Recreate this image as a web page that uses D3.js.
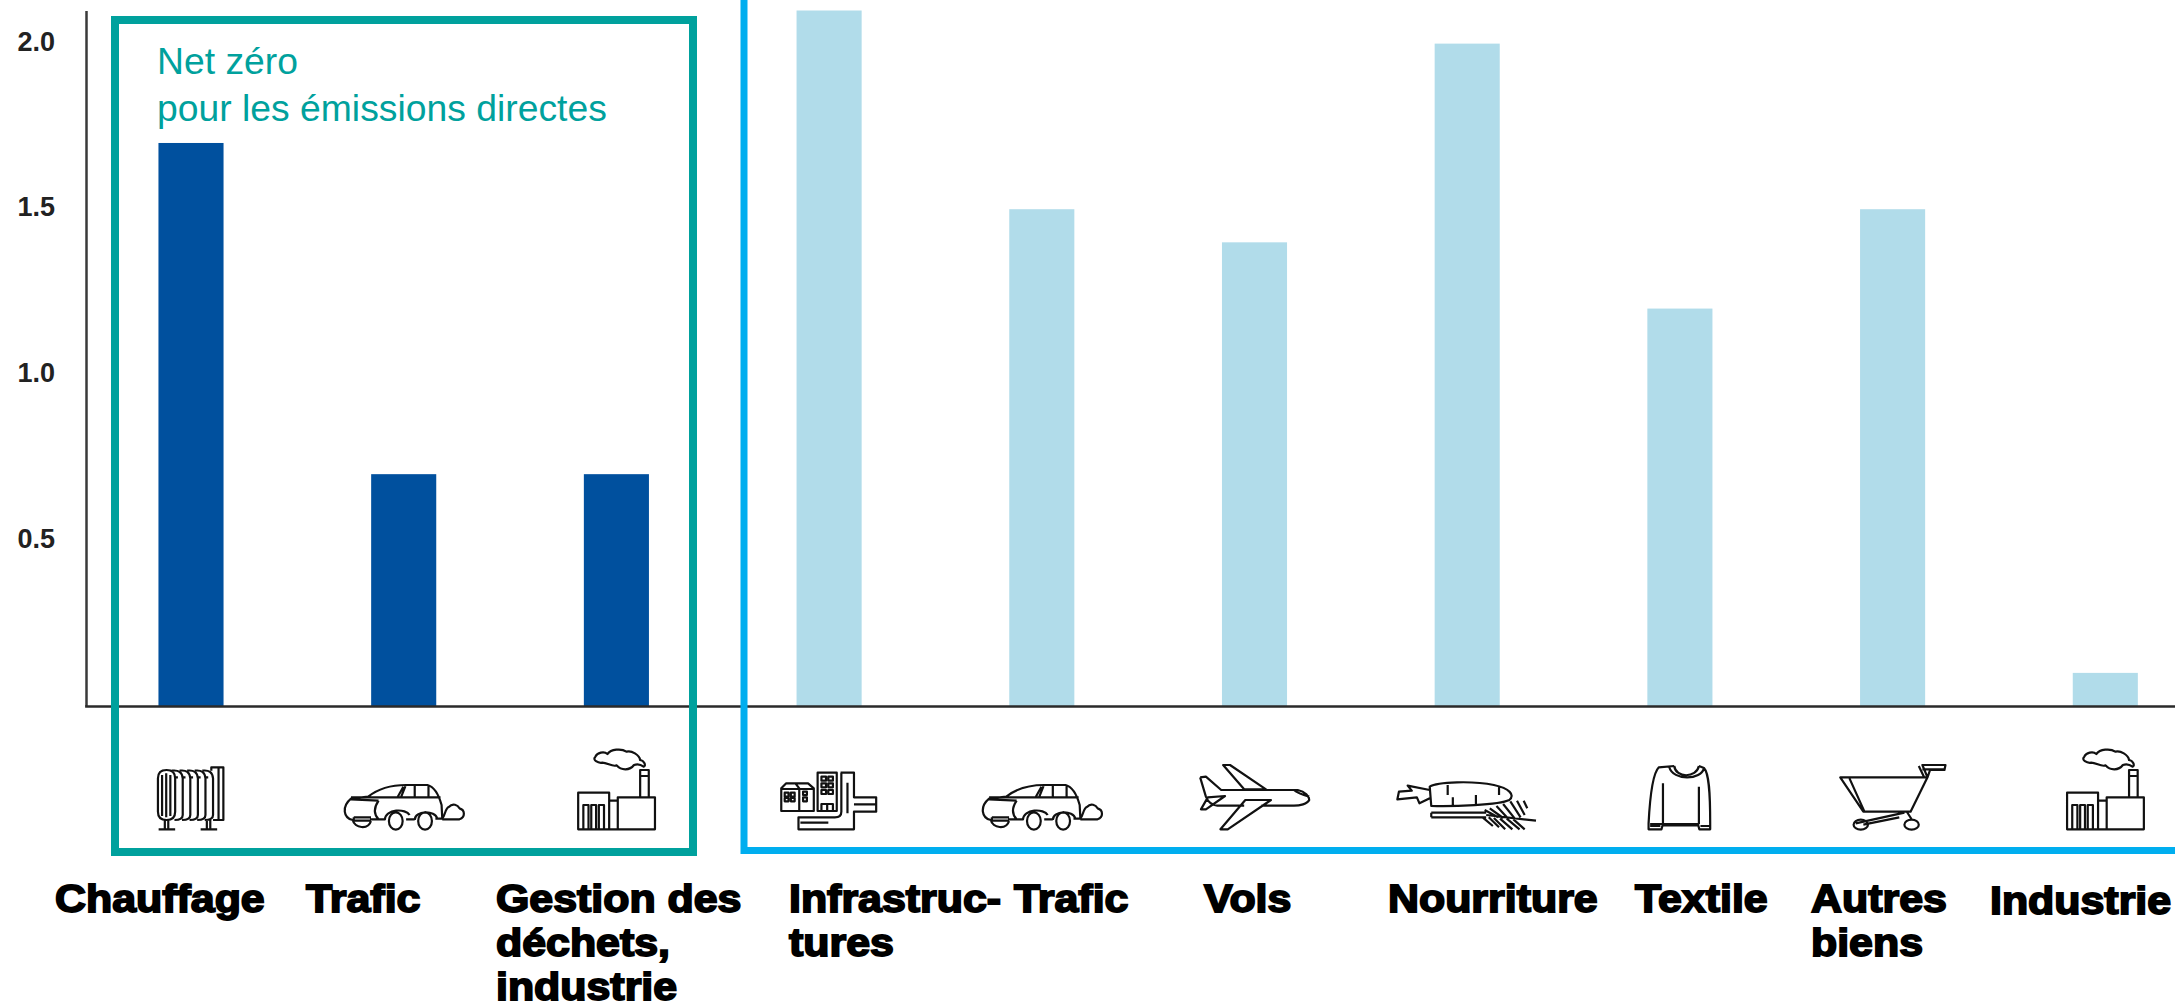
<!doctype html>
<html lang="fr">
  <head>
    <meta charset="UTF-8" />
    <title>Net zéro</title>
    <style>
      html, body { margin: 0; padding: 0; background: #fff; overflow: hidden; }
      svg { display: block; }
      .icon path { fill: none; stroke: #111; stroke-width: 2.2; vector-effect: non-scaling-stroke; stroke-linejoin: round; }
      text { font-family: "Liberation Sans", Arial, sans-serif; }
    </style>
  </head>
  <body>
    <div id="target"></div>
    <script src="https://d3js.org/d3.v7.min.js"></script>
    <script>
      /* global d3 */

      // data
      const categories = [
        "Chauffage", "Trafic direct", "Gestion", "Infrastructures", "Trafic indirect",
        "Vols", "Nourriture", "Textile", "Autres biens", "Industrie",
      ];
      const values = [1.7, 0.7, 0.7, 2.1, 1.5, 1.4, 2.0, 1.2, 1.5, 0.1];
      const groups = ["direct", "direct", "direct", "indirect", "indirect", "indirect", "indirect", "indirect", "indirect", "indirect"];
      const yTicks = [0.5, 1.0, 1.5, 2.0];
      const labelLines = [
        ["Chauffage"], ["Trafic"], ["Gestion des", "déchets,", "industrie"],
        ["Infrastruc-", "tures"], ["Trafic"], ["Vols"], ["Nourriture"], ["Textile"],
        ["Autres", "biens"], ["Industrie"],
      ];
      const iconNames = ["radiator", "car", "factory", "city", "car", "plane", "food", "sweater", "cart", "factory"];
      const noteLines = ["Net zéro", "pour les émissions directes"];

      const width = 2175,
        height = 1002;
      const teal = "#00a19d",
        sky = "#00aeef";
      const colors = { direct: "#00509e", indirect: "#b1dcea" };

      // left edge of each x label
      const labelLeft = [55, 306, 496, 789, 1014, 1204, 1388, 1635, 1811, 1990];

      // line icons, drawn in crop units, bottom at y=270
      const icons = {
        radiator: {
          cx: 176, sx: 2.904,
          d: "M80 115 Q80 90 105 90 Q130 90 130 115 V215 Q130 240 105 240 Q80 240 80 215 Z M92 105 V228 M104 100 V232 M116 105 V228 " +
            "M120 92 Q150 88 152 115 V225 Q152 240 128 240 M143 92 Q172 88 174 115 V225 Q174 240 150 240 M165 92 Q194 88 196 115 V225 Q196 240 172 240 " +
            "M187 92 Q216 88 218 115 V225 Q218 240 194 240 M209 92 Q238 88 240 115 V225 Q240 240 216 240 " +
            "M235 92 V82 H270 V240 H240 M256 82 V240 M130 112 H138 M152 112 H160 M174 112 H182 M196 112 H204 M218 112 H226 " +
            "M100 240 V266 M110 240 V266 M82 268 H130 M222 240 V266 M232 240 V266 M204 268 H252",
        },
        car: {
          cx: 793, sx: 2.904,
          d: "M645 240 C618 235 612 200 640 176 L690 170 C720 145 760 135 800 135 H862 C880 140 895 165 903 195 L905 236 H885 M825 238 H800 M740 238 H695 " +
            "M640 178 L720 182 M640 172 L725 172 L790 172 H900 M775 172 L792 140 M785 172 L798 138 M825 135 V172 M865 135 V172 " +
            "M720 182 C705 205 708 225 720 238 M648 232 H698 M648 232 V242 H698 " +
            "M645 240 C650 265 690 270 698 243 " +
            "M790 243 A20 26 0 1 1 750 243 A20 26 0 1 1 790 243 M875 243 A20 26 0 1 1 835 243 A20 26 0 1 1 875 243 " +
            "M738 240 C740 205 800 205 810 225 M825 240 C825 210 885 210 890 235 " +
            "M905 235 C915 225 912 205 925 200 C935 188 950 195 955 205 C972 210 972 232 955 238 H905",
        },
        factory: {
          cx: 1411, sx: 2.904,
          d: "M1300 268 V158 H1390 V268 Z M1390 182 H1415 M1415 268 V172 H1523 V268 Z M1300 268 H1523 " +
            "M1315 268 V195 H1330 V268 M1338 268 V195 H1352 V268 M1360 268 V195 H1375 V268 " +
            "M1480 172 V90 H1505 V172 M1480 108 H1505 " +
            "M1350 50 C1355 38 1375 32 1385 42 C1395 28 1425 24 1440 35 C1455 30 1478 45 1480 60 C1492 62 1498 78 1490 80 " +
            "C1480 72 1470 72 1462 75 C1450 92 1425 92 1412 76 C1400 82 1385 68 1370 68 C1358 70 1340 60 1350 50 Z",
        },
        city: {
          cx: 180, sx: 2.613,
          d: "M55 213 V145 L68 130 H125 L140 145 V213 Z M92 130 L102 145 V213 M55 147 H140 " +
            "M64 158 H74 V170 H64 Z M80 158 H90 V170 H80 Z M64 174 H74 V184 H64 Z M80 174 H90 V184 H80 Z M112 155 H122 V165 H112 Z M112 172 H122 V184 H112 Z " +
            "M150 213 V98 H200 V213 Z M160 110 H172 V122 H160 Z M178 110 H190 V122 H178 Z M160 130 H172 V142 H160 Z M178 130 H190 V142 H178 Z M160 150 H172 V162 H160 Z M178 150 H190 V162 H178 Z M160 213 V192 H190 V213 M175 192 V213 " +
            "M210 98 H245 V172 H303 V215 H245 V268 H100 V232 H195 Q212 232 212 215 V98 M228 128 V220 M245 193 H303 M105 248 H178",
        },
        plane: {
          cx: 1292, sx: 2.613,
          d: "M1150 112 L1165 110 L1205 150 H1405 C1425 155 1435 170 1435 180 C1430 192 1410 197 1395 197 H1310 M1265 197 H1195 C1180 195 1170 185 1165 170 L1150 112 " +
            "M1210 75 H1228 L1322 148 H1265 Z M1268 180 H1335 L1222 268 H1203 Z " +
            "M1170 172 L1215 168 L1165 208 H1152 Z M1395 150 C1405 160 1420 165 1435 170",
        },
        food: {
          cx: 188, sx: 1.948,
          d: "M115 140 C130 125 200 122 240 135 C270 145 282 165 270 180 C250 195 160 200 118 198 Z M115 150 L72 137 L80 152 L55 155 L52 178 L90 172 L95 190 L115 175 " +
            "M150 135 V165 M205 165 V196 M250 142 V165 M160 172 V195 " +
            "M118 218 H225 M118 232 H225 M118 218 V232 M225 225 L322 242 " +
            "M222 210 L248 232 M232 205 L258 234 M245 198 L268 236 M258 192 L282 238 M272 184 L292 232 M285 182 L300 225 M298 182 L305 205 " +
            "M218 232 L238 258 M230 232 L250 262 M240 234 L262 268 M252 236 L276 268 M265 236 L290 268 M278 238 L300 268",
        },
        sweater: {
          cx: 603, sx: 1.948,
          d: "M592 78 L562 82 C550 100 545 160 542 250 V268 H567 L570 252 H638 L641 268 H662 V250 C662 160 660 100 650 84 L640 78 " +
            "M592 78 C595 115 635 115 640 78 M582 80 C590 125 645 120 650 84 M570 130 V252 M640 140 V252 M545 252 H570 M567 256 H641 M545 258 H565 M643 258 H660",
        },
        cart: {
          cx: 1017, sx: 1.948,
          d: "M915 112 H1085 L1052 215 H960 Z M933 115 L962 214 M1085 112 L1075 75 H1120 L1118 90 H1090 L1085 112 M1078 110 L1068 78 M1075 88 H1120 " +
            "M1040 218 L945 250 M1030 232 L960 254 M1045 216 L1055 240 " +
            "M969 254 A14 15 0 1 1 941 254 A14 15 0 1 1 969 254 M1068 254 A14 15 0 1 1 1040 254 A14 15 0 1 1 1068 254",
        },
      };

      const svg = d3
        .select("#target")
        .append("svg")
        .attr("width", width)
        .attr("height", height)
        .attr("viewBox", [0, 0, width, height]);

      const step = 212.7;
      const xScale = d3
        .scaleBand()
        .domain(d3.range(categories.length))
        .range([84.65, 84.65 + step * categories.length])
        .paddingInner(0.694)
        .paddingOuter(0.347);

      const yScale = d3.scaleLinear().domain([0, 2.1]).range([706, 10.5]);

      // bars
      svg
        .append("g")
        .selectAll("rect")
        .data(values)
        .join("rect")
        .attr("x", (d, i) => xScale(i))
        .attr("y", (d) => yScale(d))
        .attr("width", xScale.bandwidth())
        .attr("height", (d) => yScale(0) - yScale(d))
        .attr("fill", (d, i) => colors[groups[i]]);

      // axes
      const gy = svg
        .append("g")
        .attr("transform", "translate(86,0)")
        .call(
          d3
            .axisLeft(yScale)
            .tickValues(yTicks)
            .tickFormat(d3.format(".1f"))
            .tickSize(0)
            .tickPadding(31)
        );
      gy.select(".domain").attr("stroke", "#3a3a3a").attr("stroke-width", 2.5);
      gy.selectAll("text")
        .attr("dy", "0.25em")
        .style("font-size", "27px")
        .style("font-weight", "bold")
        .style("font-family", '"Liberation Sans", Arial, sans-serif')
        .attr("fill", "#222");

      const gx = svg
        .append("g")
        .attr("transform", "translate(0,706)")
        .call(d3.axisBottom(xScale).tickValues([]).tickSizeOuter(0));
      gx.select(".domain").attr("stroke", "#2a2a2a").attr("stroke-width", 2.5);

      // group frames
      svg
        .append("rect")
        .attr("x", 115)
        .attr("y", 20)
        .attr("width", 578)
        .attr("height", 832)
        .attr("fill", "none")
        .attr("stroke", teal)
        .attr("stroke-width", 8);
      svg
        .append("rect")
        .attr("x", 744)
        .attr("y", -40)
        .attr("width", 1600)
        .attr("height", 890.5)
        .attr("fill", "none")
        .attr("stroke", sky)
        .attr("stroke-width", 7);

      // note in the teal frame
      svg
        .append("g")
        .selectAll("text")
        .data(noteLines)
        .join("text")
        .attr("x", 157)
        .attr("y", (d, i) => 74 + i * 47)
        .attr("fill", teal)
        .style("font-size", "37.3px")
        .text((d) => d);

      // icons under the bars
      svg
        .append("g")
        .attr("class", "icon")
        .selectAll("path")
        .data(iconNames)
        .join("path")
        .attr("d", (d) => icons[d].d)
        .attr("transform", (d, i) => {
          const c = xScale(i) + xScale.bandwidth() / 2;
          return `translate(${c},830) scale(${1 / icons[d].sx},${1 / 3}) translate(${-icons[d].cx},-270)`;
        });

      // x labels, stretched and thickened like the original
      const gLabels = svg.append("g");
      labelLines.forEach((lines, i) => {
        const base = i === 9 ? 914 : 912;
        lines.forEach((line, j) => {
          gLabels
            .append("text")
            .attr("transform", `translate(${labelLeft[i]},${base + j * 44}) scale(1.1,1)`)
            .attr("fill", "#000")
            .attr("stroke", "#000")
            .attr("stroke-width", 1.8)
            .style("font-size", "39px")
            .style("font-weight", "bold")
            .text(line);
        });
      });
    </script>
  </body>
</html>
